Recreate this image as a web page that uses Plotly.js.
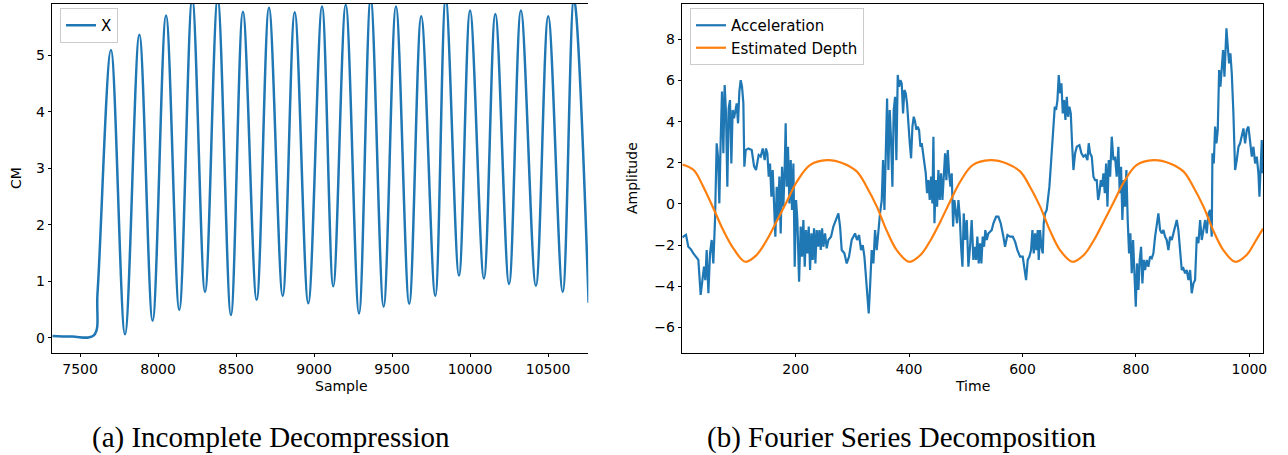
<!DOCTYPE html>
<html><head><meta charset="utf-8">
<script src="https://cdn.plot.ly/plotly-3.0.1.min.js"></script>
<style>html,body{margin:0;padding:0;background:#fff;} #chart{width:1288px;height:455px;}</style>
</head><body><div id="chart"></div>
<script>
// ---------- (a) Incomplete Decompression ----------
const sampleX = [7322, 7450, 7588, 7612, 7698, 7788, 7880, 7965, 8051, 8136, 8219, 8301, 8382, 8467, 8544, 8632, 8711, 8799, 8876, 8963, 9051, 9123, 9203, 9288, 9363, 9446, 9525, 9610, 9687, 9777, 9844, 9929, 10000, 10089, 10162, 10250, 10326, 10422, 10501, 10594, 10666, 10760];
const cmY = [0.03, 0.02, 0.04, 0.8, 5.09, 0.06, 5.36, 0.30, 5.70, 0.49, 6.0, 0.81, 6.0, 0.40, 5.77, 0.67, 5.84, 0.74, 5.76, 0.61, 5.86, 0.91, 5.89, 0.43, 6.0, 0.55, 5.86, 0.60, 5.69, 0.74, 6.0, 1.10, 5.79, 1.05, 5.73, 0.95, 5.79, 0.92, 5.69, 0.81, 6.0, 0.62];
const sampleTicks = [7500, 8000, 8500, 9000, 9500, 10000, 10500];
const sampleTickText = ['7500', '8000', '8500', '9000', '9500', '10000', '10500'];
const cmTicks = [0, 1, 2, 3, 4, 5];

// ---------- (b) Fourier Series Decomposition ----------
const accT = [0,3,6.5,10.6,15,19.5,25.3,28.3,32.4,36,38.3,40.6,43,46,48.9,51.8,54.7,57.7,60.6,63,65.3,67.7,70,72.4,74.7,77.1,79.4,81.8,84.1,86.5,88.8,91.2,93.5,95.9,98.3,100.6,103,105.3,107.7,109.4,111.8,116.5,122.4,126.5,130,134.7,138.2,141.8,145.3,147.6,150,152.4,154.7,157.1,159.4,161.8,164.1,166.5,168.8,171.2,173.5,175.9,178.2,180.6,182.3,184.1,186.4,188.8,191.2,193.5,195.9,198.2,200.6,202.9,205.9,208.8,211.2,213.5,215.9,218.2,220.6,223,225.3,227.7,230,232.3,234.7,237,239.4,241.8,244.1,246.5,248.8,
251.7,254.6,257.6,262.3,266.4,270.5,275.2,278.2,281.1,285.8,289.9,294,298.7,304.6,308.1,311.7,315.2,318.2,321.1,323.4,325.8,328.7,331.1,334,337,339.9,342.8,345.8,348.7,351.7,354,356.4,358.7,361.1,363.4,365.8,368.1,370.5,372.8,375.2,377.5,379.9,382.2,384.6,386.9,389.3,391.6,394,396.3,398.7,401.1,403.4,405.8,408.1,410.5,412.8,415.2,417.5,419.9,422.2,424.6,426.9,429.3,431.6,434,436.3,438.7,441,442.8,444.6,446.9,449.3,451.6,454,456.3,458.7,461,463.4,465.7,468.1,470.4,472.8,475.1,477.5,479.8,482.2,484.5,486.9,489.3,491.6,494,496.3,498.7,501.6,504.5,
507.4,510.3,513.3,515.6,518,520.3,522.7,525,527.4,529.7,532.1,534.4,536.8,539.7,542.7,545.6,548.6,553.3,557.4,561.5,566.2,569.1,573.3,578,582.7,586.8,590.9,595.6,600.3,603.2,606.2,609.1,612.1,615,617.4,619.7,622.1,624.4,626.8,628.5,630.9,633.2,635.6,637.3,639.7,642.6,645,647.3,649.7,652,654.4,656.8,659.1,661.5,663.8,666.2,668.5,670.9,673.2,675.6,677.9,680.3,682.6,685,687.3,689.7,692.6,695.6,700.3,703.8,707.3,710.9,714.4,716.7,719.1,722,725,727.9,730.8,733.2,735.5,737.9,740.2,742.6,745,747.3,749.7,752,754.4,757.3,760.2,
763.1,766,769,771.3,773.7,776,778.4,780.7,783.1,785.4,787.8,790.1,792.5,794.9,797.2,799.6,801.9,804.3,806.6,809,811.3,813.7,816,819,821.9,824.8,827.8,830.7,833.7,836.6,839.5,842.5,845.4,848.4,851.3,854.2,857.2,860.1,863.1,866,869,871.9,874.8,877.8,880.7,883.6,886.6,889.5,892.5,895.4,898.3,901.3,904.2,907.2,910.1,913.1,916,918.9,921.9,924.8,927.7,930.7,933.6,934.8,937.2,939.5,941.9,944.2,946.6,948.9,951.3,953.6,956,957.7,959.5,961.9,964.2,966.5,968.9,971.8,974.8,977.7,980.7,983.6,986.5,989.5,992.4,995.4,998.3,1001.2,1004.2,1007.1,1010.1,1013,1015.9,1017.7,1019.5,1021.8,1023];
const accel = [-1.62,-1.55,-1.5,-2.08,-2.2,-2.4,-2.64,-2.72,-4.42,-3.37,-3.05,-3.7,-2.24,-4.34,-2.4,-1.75,-2.89,-0.78,2.95,2.3,0.03,3.11,5.46,2.46,5.78,4.4,0.84,4.65,5.05,1.97,4.57,4.16,4.57,4.89,3.92,5.46,6.02,5.7,4.89,1.81,2.62,2.7,2.62,1.84,1.65,2.38,2.3,2.7,2.13,2.7,2.46,1.33,1.97,0.35,1.65,-0.13,-1.59,0.84,-0.78,1.33,-1.43,1.81,-0.13,1.81,3.92,0.84,2.78,0.03,2.13,-0.29,1.97,-3.05,0.19,-0.78,-3.78,-1.1,-2.56,-0.78,-3.05,-1.27,-2.4,-1.1,-3.21,-1.43,-2.72,-1.18,-2.89,-1.27,-2.08,-1.27,-2.24,-1.18,-2.08,
-1.43,-2.16,-1.75,-1.59,-1.1,-0.78,-0.46,-1.1,-2.24,-2.4,-2.89,-2.56,-1.75,-1.43,-1.75,-1.51,-2.24,-2.0,-2.56,-3.37,-4.34,-5.32,-4.02,-2.24,-2.89,-1.27,-2.24,-1.1,-0.46,0.19,2.13,-0.29,2.62,5.13,1.65,4.57,3.11,0.84,4.57,5.21,2.13,6.27,5.7,6.02,5.86,4.4,5.54,5.38,4.89,3.76,2.95,2.22,3.76,4.24,4.0,3.6,3.76,3.6,2.78,2.95,2.46,2.13,1.49,0.52,1.16,0.19,1.33,0.03,3.27,-0.94,1.16,-0.13,1.65,0.19,1.49,0.19,1.16,2.46,1.16,2.62,1.49,0.84,1.49,-1.1,0.19,-0.46,-0.94,0.19,-0.62,-2.08,-3.05,-0.46,-1.75,-0.78,-3.05,
-2.08,-0.78,-2.72,-2.08,-2.72,-1.59,-2.89,-1.91,-2.89,-1.59,-2.08,-1.27,-1.75,-1.43,-1.35,-1.27,-0.94,-0.62,-0.62,-0.94,-1.59,-2.08,-1.51,-1.59,-1.59,-1.83,-2.24,-2.56,-2.56,-3.21,-3.7,-2.72,-2.56,-2.24,-1.27,-2.4,-1.43,-2.24,-1.27,-2.72,-1.27,-2.08,-2.4,-0.94,-0.46,-0.29,0.19,0.84,1.81,2.78,3.76,4.73,4.57,5.05,6.27,5.38,5.86,4.4,5.05,4.08,5.21,4.24,4.73,4.4,2.95,1.65,2.46,2.78,2.86,2.46,2.3,2.38,2.13,2.95,2.46,2.3,1.33,1.16,1.16,0.19,0.52,1.16,0.84,1.49,0.52,1.97,-0.13,2.13,1.33,3.27,2.13,
2.3,1.33,2.78,0.52,1.81,-0.78,1.16,-0.13,1.65,-0.78,-2.4,-1.43,-3.37,-1.75,-3.86,-4.99,-2.89,-4.18,-2.72,-2.08,-3.86,-2.72,-3.21,-2.72,-3.05,-2.56,-2.64,-2.4,-1.59,-1.1,-0.46,-1.27,-1.43,-1.27,-1.59,-1.75,-2.24,-1.59,-1.75,-1.43,-1.1,-0.78,-1.27,-2.08,-3.21,-3.13,-3.37,-3.21,-3.7,-3.21,-4.34,-3.86,-3.7,-1.59,-1.91,-0.78,-1.75,-1.27,-0.78,-1.43,-0.46,-0.29,-1.59,2.46,1.97,3.76,2.95,3.6,6.51,5.7,6.51,7.48,6.19,7.97,8.54,7.64,6.83,7.32,6.35,4.4,1.65,2.13,2.78,2.95,3.27,3.67,2.95,3.6,3.76,3.11,2.3,2.78,1.97,2.3,1.49,0.35,2.13,3.11,1.49];
const depthT = [0,20,37,55,72,90,111,131,149,166,184,202,225,255,284,308,325,343,360,378,400,420,438,455,472,490,512,543,572,596,613,631,648,666,688,708,726,743,761,779,801,831,860,884,901,919,936,954,975,995,1012,1024];
const depth = [1.92,1.65,0.84,-0.22,-1.27,-2.16,-2.81,-2.48,-1.75,-0.86,0.11,1.08,1.89,2.13,1.97,1.57,0.84,-0.13,-1.27,-2.24,-2.81,-2.48,-1.75,-0.86,0.11,1.08,1.89,2.13,1.97,1.57,0.84,-0.13,-1.27,-2.24,-2.81,-2.48,-1.75,-0.86,0.11,1.08,1.89,2.13,1.97,1.57,0.84,-0.13,-1.27,-2.24,-2.81,-2.48,-1.75,-1.2];
const timeTicks = [200, 400, 600, 800, 1000];
const ampTicks = [-6, -4, -2, 0, 2, 4, 6, 8];

const W = 1288, H = 455;
const px = x => x / W;
const py = y => 1 - y / H;
const tickFont = {family: 'DejaVu Sans', size: 14, color: '#000'};
const axisCommon = {showline: true, linecolor: '#000', linewidth: 1, ticks: 'outside', ticklen: 3.5,
  tickwidth: 1, tickcolor: '#000', showgrid: false, zeroline: false, tickfont: tickFont, fixedrange: true};
const legendCommon = {xanchor: 'left', yanchor: 'top', bgcolor: 'rgba(255,255,255,0.8)',
  bordercolor: '#cccccc', borderwidth: 1, font: {family: 'DejaVu Sans', size: 15, color: '#000'},
  itemwidth: 30, tracegroupgap: 0};

const traces = [
  {x: sampleX, y: cmY, type: 'scatter', mode: 'lines', name: 'X', xaxis: 'x', yaxis: 'y', legend: 'legend',
   line: {color: '#1f77b4', width: 2.5, shape: 'spline', smoothing: 1}},
  {x: accT, y: accel, type: 'scatter', mode: 'lines', name: 'Acceleration', xaxis: 'x2', yaxis: 'y2', legend: 'legend2',
   line: {color: '#1f77b4', width: 2.2}},
  {x: depthT, y: depth, type: 'scatter', mode: 'lines', name: 'Estimated Depth', xaxis: 'x2', yaxis: 'y2', legend: 'legend2',
   line: {color: '#ff7f0e', width: 2.2, shape: 'spline', smoothing: 1}}
];

const annFont = {family: 'DejaVu Sans', size: 14, color: '#000'};
const capFont = {family: 'Liberation Serif', size: 29, color: '#000'};
const layout = {
  width: W, height: H, margin: {l: 0, r: 0, t: 0, b: 0},
  paper_bgcolor: '#fff', plot_bgcolor: '#fff', showlegend: true,
  xaxis: Object.assign({}, axisCommon, {domain: [px(52.3), px(588.3)], range: [7322, 10758], tickvals: sampleTicks, ticktext: sampleTickText, mirror: true, anchor: 'y'}),
  yaxis: Object.assign({}, axisCommon, {domain: [py(352.7), py(4)], range: [-0.265, 5.905], tickvals: cmTicks, anchor: 'x'}),
  xaxis2: Object.assign({}, axisCommon, {domain: [px(682.3), px(1263.3)], range: [0, 1024.5], tickvals: timeTicks, mirror: true, anchor: 'y2'}),
  yaxis2: Object.assign({}, axisCommon, {domain: [py(352.7), py(4)], range: [-7.23, 9.72], tickvals: ampTicks, mirror: true, anchor: 'x2'}),
  legend: Object.assign({}, legendCommon, {x: px(60), y: py(8)}),
  legend2: Object.assign({}, legendCommon, {x: px(690), y: py(8)}),
  annotations: [
    {text: 'CM', x: px(16), y: py(178), xref: 'paper', yref: 'paper', textangle: -90, showarrow: false, font: annFont, xanchor: 'center', yanchor: 'middle'},
    {text: 'Sample', x: px(342), y: py(386), xref: 'paper', yref: 'paper', showarrow: false, font: annFont, xanchor: 'center', yanchor: 'middle'},
    {text: 'Amplitude', x: px(632), y: py(178), xref: 'paper', yref: 'paper', textangle: -90, showarrow: false, font: annFont, xanchor: 'center', yanchor: 'middle'},
    {text: 'Time', x: px(972.8), y: py(386), xref: 'paper', yref: 'paper', showarrow: false, font: annFont, xanchor: 'center', yanchor: 'middle'},
    {text: '(a) Incomplete Decompression', x: px(271), y: py(437.5), xref: 'paper', yref: 'paper', showarrow: false, font: capFont, xanchor: 'center', yanchor: 'middle'},
    {text: '(b) Fourier Series Decomposition', x: px(901.5), y: py(437.5), xref: 'paper', yref: 'paper', showarrow: false, font: capFont, xanchor: 'center', yanchor: 'middle'}
  ]
};
Plotly.newPlot('chart', traces, layout, {staticPlot: true, displayModeBar: false});
</script>
</body></html>
